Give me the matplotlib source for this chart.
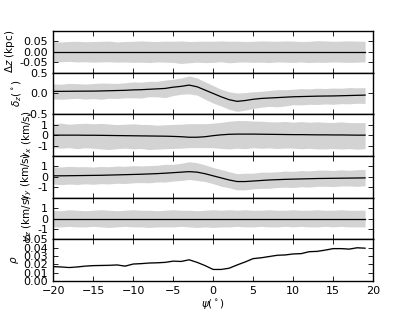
import numpy as np
import matplotlib.pyplot as plt

psi = np.arange(-20, 20)

dz = [0.0] * 40
dz_hi = [0.048, 0.047, 0.049, 0.050, 0.048, 0.049, 0.050, 0.051, 0.047, 0.049,
         0.050, 0.052, 0.050, 0.049, 0.051, 0.050, 0.052, 0.049, 0.050, 0.051,
         0.050, 0.052, 0.050, 0.051, 0.049, 0.050, 0.052, 0.051, 0.050, 0.052,
         0.051, 0.049, 0.050, 0.053, 0.052, 0.050, 0.051, 0.052, 0.051, 0.050]
dz_lo = [0.047, 0.048, 0.046, 0.049, 0.048, 0.050, 0.049, 0.048, 0.050, 0.049,
         0.051, 0.050, 0.052, 0.049, 0.050, 0.051, 0.056, 0.053, 0.050, 0.052,
         0.051, 0.048, 0.053, 0.050, 0.049, 0.051, 0.050, 0.052, 0.049, 0.050,
         0.051, 0.049, 0.052, 0.050, 0.051, 0.049, 0.050, 0.051, 0.050, 0.049]

deltaz = [0.05, 0.05, 0.052, 0.054, 0.055, 0.056, 0.06, 0.065, 0.07, 0.075,
          0.085, 0.09, 0.1, 0.11, 0.12, 0.15, 0.17, 0.2, 0.16, 0.08,
          0.0, -0.08, -0.15, -0.19, -0.17, -0.14, -0.12, -0.11, -0.1, -0.09,
          -0.08, -0.075, -0.07, -0.065, -0.062, -0.06, -0.055, -0.05, -0.045, -0.04]
deltaz_hi = [0.18, 0.17, 0.19, 0.18, 0.17, 0.18, 0.19, 0.18, 0.17, 0.18,
             0.19, 0.18, 0.19, 0.18, 0.2, 0.19, 0.2, 0.22, 0.21, 0.2,
             0.19, 0.18, 0.19, 0.2, 0.19, 0.18, 0.17, 0.18, 0.19, 0.18,
             0.18, 0.19, 0.18, 0.19, 0.18, 0.19, 0.18, 0.19, 0.18, 0.18]
deltaz_lo = [0.18, 0.19, 0.18, 0.17, 0.19, 0.18, 0.2, 0.18, 0.19, 0.18,
             0.19, 0.2, 0.18, 0.19, 0.22, 0.2, 0.19, 0.21, 0.2, 0.22,
             0.23, 0.22, 0.23, 0.24, 0.23, 0.22, 0.21, 0.2, 0.22, 0.21,
             0.19, 0.2, 0.19, 0.2, 0.19, 0.2, 0.19, 0.2, 0.19, 0.2]

vx = [0.0, 0.0, 0.0, 0.0, -0.01, -0.01, -0.02, -0.03, -0.04, -0.05,
      -0.06, -0.07, -0.08, -0.09, -0.1, -0.12, -0.15, -0.2, -0.2, -0.15,
      -0.05, 0.03, 0.08, 0.1, 0.1, 0.1, 0.09, 0.08, 0.07, 0.06,
      0.05, 0.05, 0.04, 0.03, 0.03, 0.02, 0.02, 0.01, 0.0, 0.0]
vx_hi = [1.1, 1.15, 1.05, 1.1, 1.15, 1.1, 1.15, 1.1, 1.05, 1.1,
         1.15, 1.1, 1.1, 1.05, 1.1, 1.15, 1.2, 1.3, 1.3, 1.25,
         1.2, 1.2, 1.25, 1.3, 1.3, 1.25, 1.25, 1.2, 1.2, 1.25,
         1.2, 1.25, 1.2, 1.25, 1.2, 1.2, 1.25, 1.2, 1.2, 1.2]
vx_lo = [1.2, 1.25, 1.2, 1.3, 1.2, 1.25, 1.3, 1.35, 1.25, 1.2,
         1.25, 1.2, 1.3, 1.25, 1.2, 1.15, 1.1, 1.0, 1.0, 1.05,
         1.15, 1.3, 1.4, 1.35, 1.4, 1.3, 1.35, 1.3, 1.35, 1.3,
         1.3, 1.35, 1.3, 1.35, 1.35, 1.3, 1.35, 1.3, 1.35, 1.3]

vy = [0.1, 0.1, 0.11, 0.12, 0.13, 0.14, 0.15, 0.17, 0.19, 0.21,
      0.23, 0.25, 0.28, 0.31, 0.35, 0.4, 0.45, 0.5, 0.45, 0.3,
      0.1, -0.1, -0.3, -0.45, -0.45, -0.4, -0.35, -0.3, -0.27, -0.24,
      -0.22, -0.2, -0.18, -0.16, -0.15, -0.14, -0.13, -0.12, -0.11, -0.1]
vy_hi = [0.85, 0.85, 0.9, 0.85, 0.85, 0.8, 0.85, 0.8, 0.85, 0.8,
         0.85, 0.8, 0.8, 0.8, 0.85, 0.8, 0.85, 0.95, 0.9, 0.85,
         0.8, 0.8, 0.8, 0.75, 0.8, 0.75, 0.8, 0.75, 0.75, 0.8,
         0.75, 0.8, 0.75, 0.8, 0.8, 0.75, 0.8, 0.75, 0.8, 0.8]
vy_lo = [0.8, 0.85, 0.8, 0.85, 0.8, 0.85, 0.8, 0.85, 0.8, 0.85,
         0.8, 0.8, 0.85, 0.8, 0.85, 0.8, 0.8, 0.75, 0.8, 0.75,
         0.75, 0.8, 0.75, 0.8, 0.8, 0.75, 0.75, 0.8, 0.75, 0.75,
         0.8, 0.75, 0.8, 0.75, 0.75, 0.8, 0.75, 0.75, 0.8, 0.75]

vz = [0.0] * 40
vz_hi = [0.8, 0.75, 0.85, 0.8, 0.75, 0.8, 0.85, 0.8, 0.75, 0.8,
         0.85, 0.8, 0.8, 0.75, 0.8, 0.85, 0.8, 0.8, 0.75, 0.8,
         0.85, 0.8, 0.85, 0.8, 0.85, 0.8, 0.8, 0.85, 0.8, 0.8,
         0.85, 0.8, 0.8, 0.85, 0.8, 0.8, 0.85, 0.8, 0.8, 0.8]
vz_lo = [0.8, 0.8, 0.75, 0.8, 0.8, 0.75, 0.8, 0.85, 0.8, 0.75,
         0.8, 0.8, 0.85, 0.8, 0.8, 0.8, 0.75, 0.8, 0.85, 0.8,
         0.85, 0.8, 0.8, 0.75, 0.8, 0.8, 0.75, 0.8, 0.8, 0.75,
         0.8, 0.75, 0.8, 0.8, 0.75, 0.8, 0.75, 0.8, 0.8, 0.8]

rho = [0.0174, 0.017, 0.0163, 0.017, 0.018, 0.0186, 0.0188, 0.019, 0.0194, 0.018,
       0.0205, 0.021, 0.0217, 0.022, 0.0225, 0.024, 0.0236, 0.0256, 0.0225, 0.0186,
       0.014, 0.014, 0.0155, 0.0194, 0.023, 0.027, 0.028, 0.0295, 0.031, 0.0314,
       0.0326, 0.033, 0.0353, 0.0357, 0.0372, 0.039, 0.039, 0.0384, 0.040, 0.0395]
rho_hi = [0.0005, 0.0006, 0.0005, 0.0007, 0.0006, 0.0008, 0.0006, 0.0007, 0.0008, 0.0012,
          0.0006, 0.0008, 0.0009, 0.0007, 0.0008, 0.0006, 0.0009, 0.0005, 0.0006, 0.0005,
          0.0004, 0.0005, 0.0006, 0.0007, 0.0008, 0.0009, 0.0011, 0.0008, 0.0009, 0.0008,
          0.0007, 0.0009, 0.0008, 0.001, 0.0009, 0.0008, 0.0014, 0.0008, 0.0007, 0.0006]
rho_lo = [0.0004, 0.0005, 0.0004, 0.0006, 0.0005, 0.0006, 0.0007, 0.0006, 0.0005, 0.0006,
          0.0005, 0.0006, 0.0005, 0.0006, 0.0005, 0.0006, 0.0005, 0.0004, 0.0005, 0.0004,
          0.0004, 0.0004, 0.0005, 0.0006, 0.0005, 0.0006, 0.0005, 0.0007, 0.0006, 0.0005,
          0.0006, 0.0007, 0.0006, 0.0007, 0.0006, 0.0008, 0.0007, 0.0006, 0.0007, 0.0006]

panels = [
    (dz, dz_hi, dz_lo, r'$\Delta z$ (kpc)', (-0.1, 0.1), [-0.05, 0.0, 0.05], '%.2f'),
    (deltaz, deltaz_hi, deltaz_lo, r'$\delta_z(^\circ)$', (-0.5, 0.5), [-0.5, 0.0, 0.5], '%.1f'),
    (vx, vx_hi, vx_lo, r'$v_x$ (km/s)', (-2, 2), [-1, 0, 1], '%d'),
    (vy, vy_hi, vy_lo, r'$v_y$ (km/s)', (-2, 2), [-1, 0, 1], '%d'),
    (vz, vz_hi, vz_lo, r'$v_z$ (km/s)', (-2, 2), [-1, 0, 1], '%d'),
    (rho, rho_hi, rho_lo, r'$\rho$', (0, 0.05), [0, 0.01, 0.02, 0.03, 0.04, 0.05], '%.2f'),
]

plt.rcParams['xtick.direction'] = 'in'
plt.rcParams['ytick.direction'] = 'in'
plt.rcParams['xtick.top'] = True
plt.rcParams['ytick.right'] = True

fig, axes = plt.subplots(6, 1, sharex=True, figsize=(4.15, 3.12), dpi=100)
fig.subplots_adjust(left=0.128, right=0.899, top=0.901, bottom=0.099, hspace=0)

for ax, (y, hi, lo, label, ylim, ticks, fmt) in zip(axes, panels):
    y = np.array(y)
    ax.fill_between(psi, y - np.array(lo), y + np.array(hi), color='lightgray', lw=0)
    ax.plot(psi, y, color='black', lw=0.9)
    ax.set_ylim(*ylim)
    ax.set_yticks(ticks)
    ax.set_yticklabels([fmt % t for t in ticks], fontsize=8)
    ax.set_ylabel(label, fontsize=7.5, labelpad=2)
    ax.tick_params(length=3.5, width=0.6)
    for s in ax.spines.values():
        s.set_linewidth(1.0)

axes[-1].set_xlim(-20, 20)
axes[-1].set_xticks(range(-20, 21, 5))
axes[-1].tick_params(axis='x', labelsize=8)
axes[-1].set_xlabel(r'$\psi(^\circ)$', fontsize=7.5, labelpad=1)

fig.savefig('out.png', dpi=100)
